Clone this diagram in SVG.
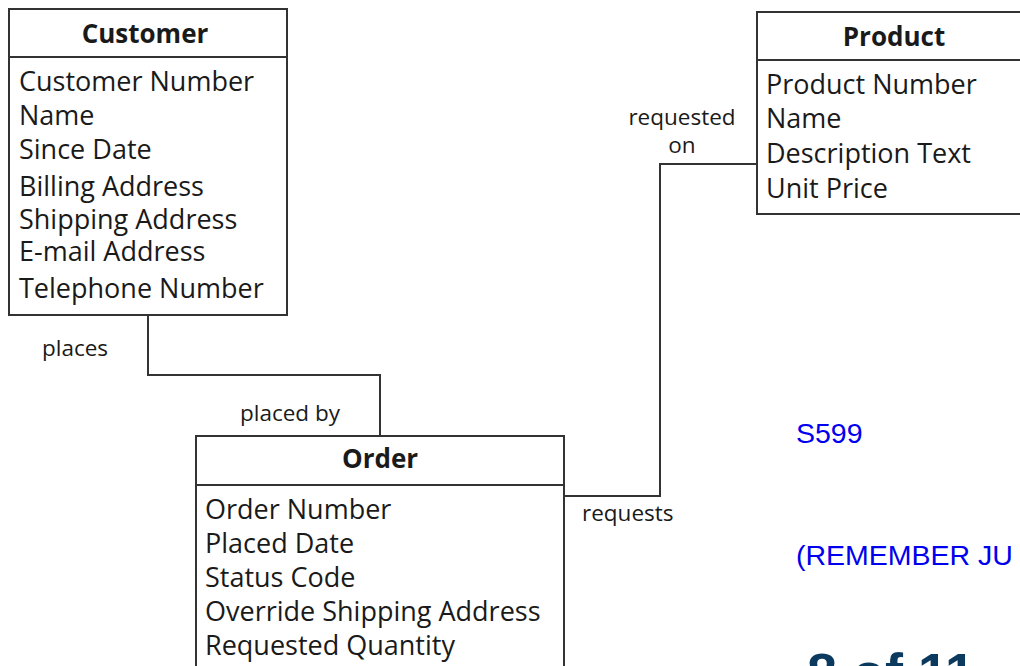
<svg xmlns="http://www.w3.org/2000/svg" width="1020" height="666" viewBox="0 0 1020 666">
  <style>
    .box { fill: #ffffff; stroke: #333333; stroke-width: 2; }
    .div { stroke: #333333; stroke-width: 2; }
    .title { font-family: "Open Sans", "DejaVu Sans", sans-serif; font-weight: bold; font-size: 26px; fill: #1a1a1a; text-anchor: middle; }
    .attr { font-family: "Open Sans", "DejaVu Sans", sans-serif; font-size: 27px; fill: #1a1a1a; }
    .lbl { font-family: "Open Sans", "DejaVu Sans", sans-serif; font-size: 22.5px; fill: #1a1a1a; }
    .wire { fill: none; stroke: #333333; stroke-width: 2; }
    .note { font-family: "Liberation Sans", Arial, sans-serif; font-size: 28.5px; fill: #0000ee; }
    .page { font-family: "Liberation Sans", Arial, sans-serif; font-weight: bold; font-size: 54px; fill: #0b3a5e; }
  </style>

  <!-- relationship lines -->
  <g id="connectors">
    <polyline class="wire" points="148,315 148,375 380,375 380,436"/>
    <polyline class="wire" points="564,496 660,496 660,164 757,164"/>
    <text class="lbl" x="42" y="356">places</text>
    <text class="lbl" x="240" y="421">placed by</text>
    <text class="lbl" x="682" y="125" text-anchor="middle">requested</text>
    <text class="lbl" x="682" y="153" text-anchor="middle">on</text>
    <text class="lbl" x="582" y="521">requests</text>
  </g>

  <g id="customer">
    <rect class="box" x="9" y="9" width="278" height="306"/>
    <line class="div" x1="9" y1="57" x2="287" y2="57"/>
    <text class="title" x="145" y="43">Customer</text>
    <text class="attr" x="19" y="91">Customer Number</text>
    <text class="attr" x="19" y="125">Name</text>
    <text class="attr" x="19" y="159">Since Date</text>
    <text class="attr" x="19" y="196">Billing Address</text>
    <text class="attr" x="19" y="229">Shipping Address</text>
    <text class="attr" x="19" y="261">E-mail Address</text>
    <text class="attr" x="19" y="298">Telephone Number</text>
  </g>

  <g id="product">
    <rect class="box" x="757" y="12" width="280" height="202"/>
    <line class="div" x1="757" y1="60" x2="1037" y2="60"/>
    <text class="title" x="894" y="46">Product</text>
    <text class="attr" x="766" y="94">Product Number</text>
    <text class="attr" x="766" y="128">Name</text>
    <text class="attr" x="766" y="163">Description Text</text>
    <text class="attr" x="766" y="198">Unit Price</text>
  </g>

  <g id="order">
    <rect class="box" x="196" y="436" width="368" height="250"/>
    <line class="div" x1="196" y1="485" x2="564" y2="485"/>
    <text class="title" x="380" y="468">Order</text>
    <text class="attr" x="205" y="519">Order Number</text>
    <text class="attr" x="205" y="553">Placed Date</text>
    <text class="attr" x="205" y="587">Status Code</text>
    <text class="attr" x="205" y="621">Override Shipping Address</text>
    <text class="attr" x="205" y="655">Requested Quantity</text>
  </g>

  <text class="note" x="796" y="443">S599</text>
  <text class="note" x="796" y="565">(REMEMBER JU</text>
  <text class="page" x="807" y="691">8 of 11</text>
</svg>
